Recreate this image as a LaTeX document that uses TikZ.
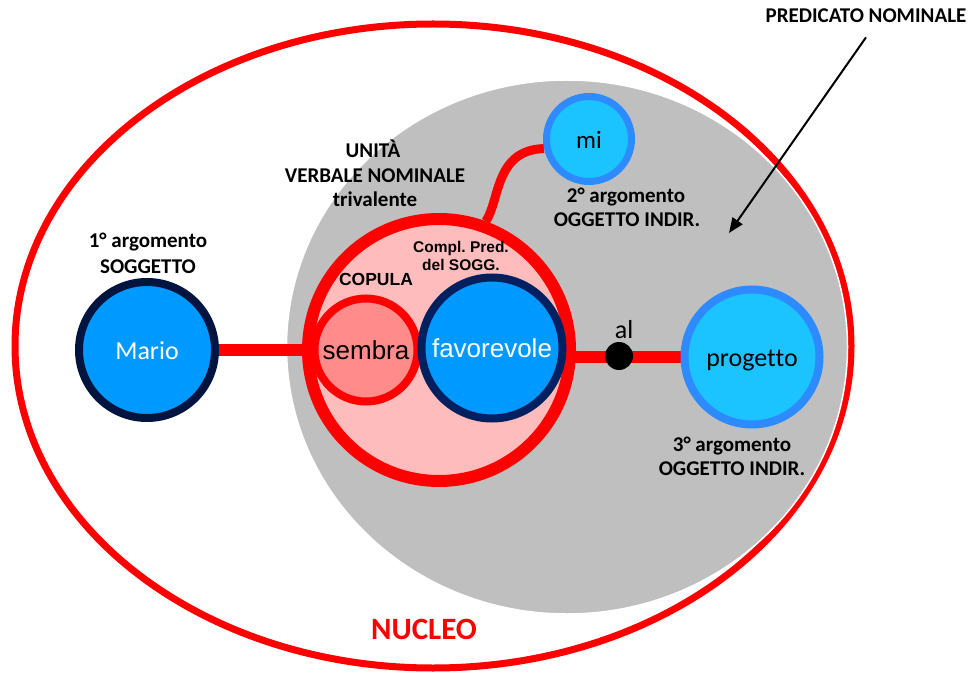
\documentclass[tikz,border=0pt]{standalone}
\usepackage{fontspec}
\setmainfont{Carlito}[Ligatures=NoCommon]
\newfontfamily\arialfont{Liberation Sans}
\usetikzlibrary{arrows.meta,backgrounds}
\frenchspacing

\definecolor{nucred}{HTML}{FF0000}
\definecolor{predgray}{HTML}{BFBFBF}
\definecolor{unitpink}{HTML}{FFBCBC}
\definecolor{copsalmon}{HTML}{FF8B8B}
\definecolor{argblue}{HTML}{0099FF}
\definecolor{navyedge}{HTML}{002060}
\definecolor{darkedge}{HTML}{001440}
\definecolor{cyanfill}{HTML}{1CC4FF}
\definecolor{cyanedge}{HTML}{2E8BFF}

\begin{document}
\begin{tikzpicture}[x=1pt,y=-1pt,
  lab/.style={font=\fontsize{21}{25}\selectfont\bfseries, anchor=base, inner sep=0pt},
  smalllab/.style={font=\arialfont\fontsize{15.5}{18}\selectfont\bfseries, anchor=base, inner sep=0pt},
  ball/.style={circle, inner sep=0pt, text height=19pt, text depth=0pt,
    font=\fontsize{26}{30}\selectfont},
  link/.style={draw=nucred, line width=12pt},
  pointer/.style={draw=black, line width=2pt, -{Triangle[length=15pt,width=12pt]}}]

\useasboundingbox (0,0) rectangle (974,676);

\begin{pgfonlayer}{background}
  \fill[white] (0,0) rectangle (974,676);
  % nucleus boundary and predicate area
  \draw[nucred, line width=7pt] (433,346) ellipse [x radius=418, y radius=322];
  \filldraw[fill=predgray, draw=white, line width=1.5pt] (567,347) ellipse [x radius=280.5, y radius=267];
\end{pgfonlayer}

% verbal-nominal unit
\node[circle, inner sep=0pt, minimum size=262pt, line width=12pt, draw=nucred, fill=unitpink] (verb) at (439,350) {};
\node[ball, minimum size=103pt, line width=8pt, draw=nucred, fill=copsalmon,
  font=\arialfont\fontsize{26}{30}\selectfont] (sembra) at (366,350) {sembra};
\node[ball, minimum size=141pt, line width=8pt, draw=navyedge, fill=argblue, text=white,
  font=\arialfont\fontsize{26}{30}\selectfont] (fav) at (492,348) {favorevole};

% arguments
\node[ball, minimum size=136pt, line width=8pt, draw=darkedge, fill=argblue, text=white] (mario) at (147,350) {Mario};
\node[ball, minimum size=85pt, line width=7pt, draw=cyanedge, fill=cyanfill,
  font=\fontsize{25}{30}\selectfont] (mi) at (589,139) {mi};
\node[ball, minimum size=135pt, line width=8pt, draw=cyanedge, fill=cyanfill] (proj) at (752,357) {progetto};

% preposition
\node[circle, inner sep=0pt, minimum size=28pt, fill=black] (al) at (619,356) {};
\node[anchor=base, inner sep=0pt, font=\fontsize{26}{30}\selectfont] (altext) at (624,338) {al};

% connectors under the circles
\begin{pgfonlayer}{background}
  \draw[link] (mario.center) -- (verb.center);
  \draw[link] (verb.center |- proj.center) -- (proj.center);
  \draw[nucred, line width=9pt] (verb.70) .. controls (500,200) and (495,150) .. (mi.192);
\end{pgfonlayer}

% labels
\node[lab] (arg1a) at (148,248) {1° argomento};
\node[lab] (arg1b) at (148,273) {SOGGETTO};
\node[lab] (arg2a) at (626,203) {2° argomento};
\node[lab] (arg2b) at (627,227) {OGGETTO INDIR.};
\node[lab] (arg3a) at (732,451) {3° argomento};
\node[lab] (arg3b) at (732,475) {OGGETTO INDIR.};
\node[lab] (unita) at (373,158) {UNITÀ};
\node[lab] (verbnom) at (375,183) {VERBALE NOMINALE};
\node[lab] (trival) at (375,207) {trivalente};
\node[smalllab] (compl) at (461,253) {Compl. Pred.};
\node[smalllab] (delsogg) at (461,270) {del SOGG.};
\node[smalllab, font=\arialfont\fontsize{17.5}{20}\selectfont\bfseries] (copula) at (376,285) {COPULA};
\node[lab, text=nucred, font=\fontsize{31}{36}\selectfont\bfseries] (nucleo) at (424,639) {NUCLEO};

% predicate label and arrow
\node[lab] (pred) at (866,23) {PREDICATO NOMINALE};
\coordinate (tip) at (729,233);
\draw[pointer] ([yshift=-14pt]pred.south) -- (tip);

\end{tikzpicture}
\end{document}
